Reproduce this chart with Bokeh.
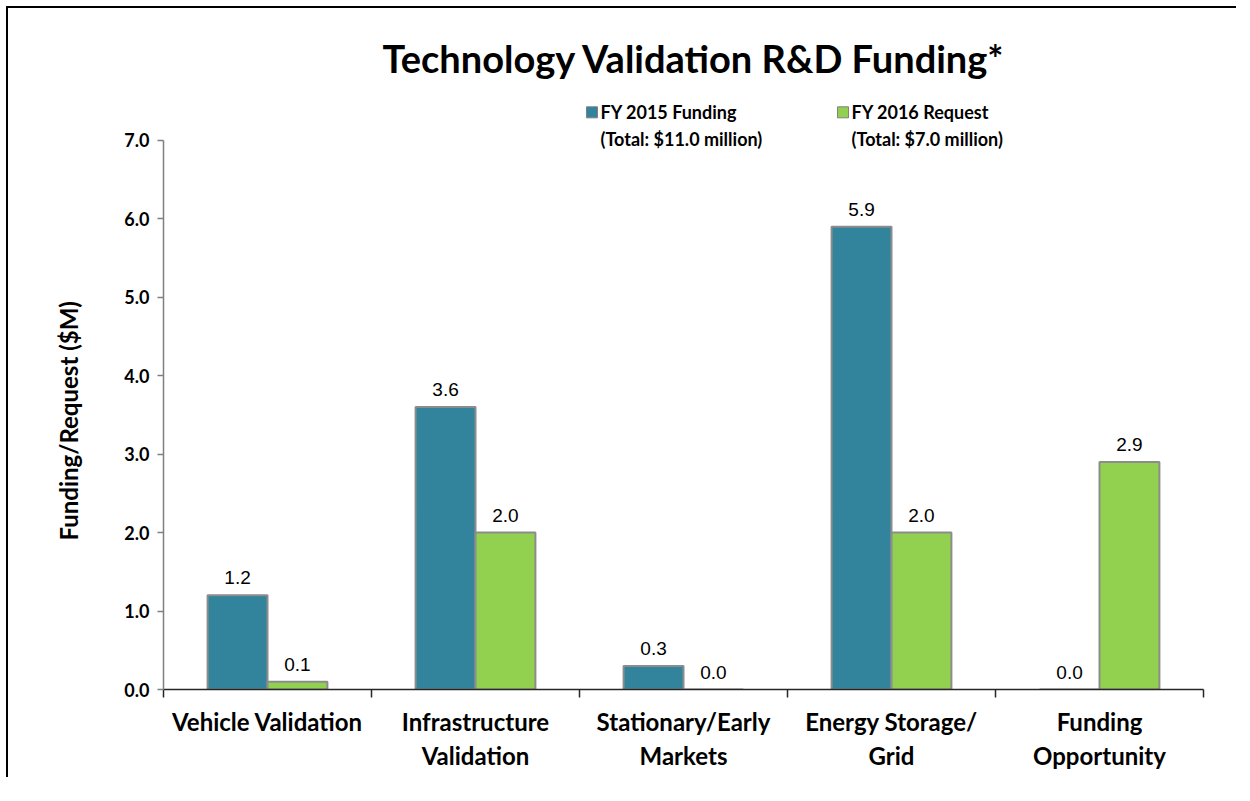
from bokeh.plotting import figure
from bokeh.models import ColumnDataSource, Range1d, FixedTicker, LinearAxis, Title, PrintfTickFormatter
from bokeh.transform import dodge
from bokeh.core.properties import value
from bokeh.embed import file_html
from bokeh.resources import INLINE

# ---- data ----
categories = ["Vehicle Validation", "Infrastructure\nValidation", "Stationary/Early\nMarkets",
              "Energy Storage/\nGrid", "Funding\nOpportunity"]
fy2015 = [1.2, 3.6, 0.3, 5.9, 0.0]
fy2016 = [0.1, 2.0, 0.0, 2.0, 2.9]
series_names = ["FY 2015 Funding", "FY 2016 Request"]
series_totals = ["(Total: $11.0 million)", "(Total: $7.0 million)"]
y_ticks = [0, 1, 2, 3, 4, 5, 6, 7]
y_label = "Funding/Request ($M)"

BLUE = "#31849B"
GREEN = "#92D050"
FONT = "Lato"

xs = [i + 0.5 for i in range(len(categories))]
bounds_x = list(range(len(categories) + 1))
src = ColumnDataSource(dict(
    x=xs, a=fy2015, b=fy2016,
    la=[f"{v:.1f}" for v in fy2015], lb=[f"{v:.1f}" for v in fy2016],
))

p = figure(output_backend="svg", toolbar_location=None,
           frame_width=1040, frame_height=608,
           x_range=Range1d(0, len(categories)), y_range=Range1d(0, 7.75),
           min_border_left=155, min_border_right=33, min_border_top=73, min_border_bottom=88,
           x_axis_type=None, y_axis_type=None)
p.styles = {"border-top": "2px solid black", "border-left": "2px solid black",
            "margin-left": "6px", "margin-top": "6px"}
p.outline_line_color = None
p.xgrid.grid_line_color = None
p.ygrid.grid_line_color = None
p.background_fill_color = "white"
p.border_fill_color = "white"

p.title = Title(text="Technology Validation R&D Funding*", align="left", offset=219,
                text_font=FONT, text_font_size="38px", text_font_style="bold",
                text_color="black", standoff=2)

bw = 0.288
p.vbar(x=dodge("x", -bw / 2, range=p.x_range), top="a", width=bw, source=src,
       fill_color=BLUE, line_color="#8C8C8C", line_width=2)
p.vbar(x=dodge("x", bw / 2, range=p.x_range), top="b", width=bw, source=src,
       fill_color=GREEN, line_color="#8C8C8C", line_width=2)

for col, lab, off in (("a", "la", -bw / 2), ("b", "lb", bw / 2)):
    p.text(x=dodge("x", off, range=p.x_range), y=col, text=lab, source=src,
           text_align="center", text_baseline="bottom", y_offset=-11,
           text_font=value("Liberation Sans"), text_font_size="19px", text_color="black")

# y axis
yax = LinearAxis(ticker=FixedTicker(ticks=y_ticks), bounds=(0, 7),
                 formatter=PrintfTickFormatter(format="%.1f"))
yax.axis_line_color = "#7F7F7F"
yax.axis_line_width = 1.5
yax.major_tick_line_color = "#7F7F7F"
yax.major_tick_line_width = 1.5
yax.major_tick_out = 6
yax.major_tick_in = 0
yax.minor_tick_line_color = None
yax.major_label_standoff = 8
yax.major_label_text_font = FONT
yax.major_label_text_font_style = "bold"
yax.major_label_text_font_size = "18px"
yax.major_label_text_color = "black"
p.add_layout(yax, "left")

# y axis title, centred on the 0-7 span of the axis
p.add_layout(Title(text=y_label, align="left", offset=149,
                   text_font=FONT, text_font_size="24px", text_font_style="bold",
                   text_color="black", standoff=78), "left")

# x axis: category labels at centres, boundary ticks as minor ticks
xax = LinearAxis(ticker=FixedTicker(ticks=xs, minor_ticks=bounds_x),
                 major_label_overrides={x: c for x, c in zip(xs, categories)})
xax.axis_line_color = "#262626"
xax.axis_line_width = 1.5
xax.major_tick_line_color = None
xax.major_tick_out = 0
xax.major_tick_in = 0
xax.minor_tick_line_color = "#262626"
xax.minor_tick_line_width = 1.5
xax.minor_tick_out = 8
xax.minor_tick_in = 0
xax.major_label_standoff = 9
xax.major_label_text_font = FONT
xax.major_label_text_font_style = "bold"
xax.major_label_text_font_size = "24px"
xax.major_label_text_color = "black"
p.add_layout(xax, "below")

# legend drawn as glyphs above bars
leg = ColumnDataSource(dict(
    sx=[2.06, 3.267], tx=[2.101, 3.308],
    color=[BLUE, GREEN], name=series_names, total=series_totals,
))
p.scatter(x="sx", y=7.357, marker="square", size=11, fill_color="color",
          line_color="#7F7F7F", source=leg)
p.text(x="tx", y=7.357, text="name", source=leg, text_baseline="middle",
       text_font=value(FONT), text_font_style="bold", text_font_size="18px", text_color="black")
p.text(x="tx", y=7.357, text="total", source=leg, text_baseline="middle", y_offset=27,
       text_font=value(FONT), text_font_style="bold", text_font_size="18px", text_color="black")

open("out.html", "w").write(file_html(p, INLINE))
